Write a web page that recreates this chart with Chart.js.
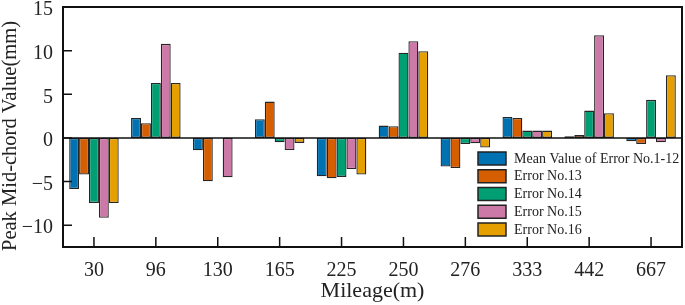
<!DOCTYPE html>
<html>
<head>
<meta charset="utf-8">
<script src="https://cdn.jsdelivr.net/npm/chart.js@4/dist/chart.umd.min.js"></script>
<style>
html,body{margin:0;padding:0;background:#fff;}
canvas{display:block;}
</style>
</head>
<body>
<canvas id="c" width="685" height="305"></canvas>
<script>
const categories = ['30','96','130','165','225','250','276','333','442','667'];
const seriesNames = ['Mean Value of Error No.1-12','Error No.13','Error No.14','Error No.15','Error No.16'];
const meanVals = [-5.85, 2.29, -1.42, 2.14, -4.4, 1.41, -3.29, 2.41, 0.18, -0.39];
const err13 = [-4.2, 1.68, -4.97, 4.16, -4.63, 1.33, -3.44, 2.29, 0.34, -0.69];
const err14 = [-7.45, 6.3, null, -0.5, -4.47, 9.75, -0.69, 0.84, 3.13, 4.36];
const err15 = [-9.14, 10.78, -4.52, -1.38, -3.56, 11.08, -0.62, 0.84, 11.77, -0.5];
const err16 = [-7.45, 6.3, null, -0.57, -4.2, 9.93, -1.11, 0.84, 2.82, 7.18];
const yTicks = [-10, -5, 0, 5, 10, 15];
const yTitle = 'Peak Mid-chord Value(mm)';
const xTitle = 'Mileage(m)';
const colors = ['#0072B2','#D55E00','#009E73','#CC79A7','#E69F00'];

const allSeries = [meanVals, err13, err14, err15, err16];
const FONT = "'Liberation Serif', 'Times New Roman', serif";

const framePlugin = {
  id: 'frame',
  afterDatasetsDraw(chart) {
    const ctx = chart.ctx, a = chart.chartArea;
    const ys = chart.scales.y, xs = chart.scales.x;
    ctx.save();
    ctx.strokeStyle = '#111';
    ctx.lineWidth = 1.5;
    const y0 = ys.getPixelForValue(0);
    ctx.beginPath(); ctx.moveTo(a.left, y0); ctx.lineTo(a.right, y0); ctx.stroke();
    ctx.lineWidth = 2;
    ctx.strokeRect(a.left, a.top, a.right - a.left, a.bottom - a.top);
    ctx.lineWidth = 1.5;
    ctx.beginPath();
    yTicks.forEach(v => {
      const y = ys.getPixelForValue(v);
      ctx.moveTo(a.left, y); ctx.lineTo(a.left + 9, y);
    });
    categories.forEach((c, i) => {
      const x = xs.getPixelForTick(i);
      ctx.moveTo(x, a.bottom); ctx.lineTo(x, a.bottom - 10);
    });
    ctx.stroke();
    // y-axis title
    ctx.save();
    ctx.translate(11, (a.top + a.bottom) / 2 + 9);
    ctx.rotate(-Math.PI / 2);
    ctx.font = '20.5px ' + FONT;
    ctx.fillStyle = '#222';
    ctx.textAlign = 'center';
    ctx.textBaseline = 'middle';
    ctx.fillText(yTitle, 0, 0);
    ctx.restore();
    // legend
    const lx = a.left + 415, ly0 = a.top + 145, step = 17.75;
    ctx.font = '14px ' + FONT;
    ctx.textBaseline = 'middle';
    ctx.textAlign = 'left';
    chart.data.datasets.forEach((ds, i) => {
      const y = ly0 + i * step;
      ctx.fillStyle = ds.backgroundColor;
      ctx.fillRect(lx, y, 28, 13);
      ctx.lineWidth = 1.5;
      ctx.strokeStyle = '#222';
      ctx.strokeRect(lx, y, 28, 13);
      ctx.fillStyle = '#222';
      ctx.fillText(ds.label, lx + 36, y + 7);
    });
    ctx.restore();
  }
};

new Chart(document.getElementById('c'), {
  type: 'bar',
  data: {
    labels: categories,
    datasets: allSeries.map((d, i) => ({
      label: seriesNames[i],
      data: d,
      backgroundColor: colors[i],
      borderColor: '#262626',
      borderWidth: 1.3,
      borderSkipped: false,
      barPercentage: 1.0,
      categoryPercentage: 0.8
    }))
  },
  options: {
    responsive: false,
    animation: false,
    devicePixelRatio: 1,
    layout: { padding: { left: 0, right: 3, top: 7, bottom: 0 } },
    plugins: { legend: { display: false }, tooltip: { enabled: false } },
    scales: {
      x: {
        grid: { display: false, drawTicks: false },
        border: { display: false },
        ticks: { color: '#222', padding: 12, font: { family: FONT, size: 20 } },
        title: { display: true, text: xTitle, color: '#222', padding: { top: 0, bottom: 2 }, font: { family: FONT, size: 22, lineHeight: 1.1 } },
        afterFit(s) { s.height = 58; s.paddingLeft = 0; s.paddingRight = 0; }
      },
      y: {
        min: -12.5, max: 15,
        grid: { display: false, drawTicks: false },
        border: { display: false },
        afterBuildTicks(s) { s.ticks = yTicks.map(v => ({ value: v })); },
        ticks: {
          color: '#222', padding: 10, labelOffset: 3, font: { family: FONT, size: 20 },
          callback: v => (v < 0 ? '\u2212' + Math.abs(v) : String(v))
        },
        title: { display: false },
        afterFit(s) { s.width = 63; s.paddingTop = 0; s.paddingBottom = 0; }
      }
    }
  },
  plugins: [framePlugin]
});
</script>
</body>
</html>
